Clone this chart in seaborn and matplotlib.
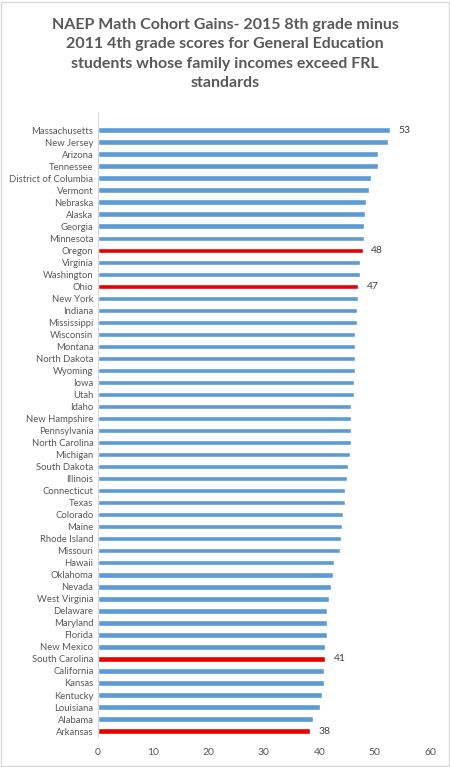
import pandas as pd
import matplotlib
matplotlib.use("Agg")
import matplotlib.pyplot as plt
import seaborn as sns

states = [
    "Massachusetts", "New Jersey", "Arizona", "Tennessee", "District of Columbia",
    "Vermont", "Nebraska", "Alaska", "Georgia", "Minnesota", "Oregon", "Virginia",
    "Washington", "Ohio", "New York", "Indiana", "Mississippi", "Wisconsin",
    "Montana", "North Dakota", "Wyoming", "Iowa", "Utah", "Idaho", "New Hampshire",
    "Pennsylvania", "North Carolina", "Michigan", "South Dakota", "Illinois",
    "Connecticut", "Texas", "Colorado", "Maine", "Rhode Island", "Missouri",
    "Hawaii", "Oklahoma", "Nevada", "West Virginia", "Delaware", "Maryland",
    "Florida", "New Mexico", "South Carolina", "California", "Kansas", "Kentucky",
    "Louisiana", "Alabama", "Arkansas",
]
gains = [
    52.7, 52.3, 50.6, 50.6, 49.4, 49.0, 48.5, 48.2, 48.0, 48.0, 47.8, 47.3,
    47.3, 47.0, 47.0, 46.8, 46.8, 46.5, 46.5, 46.5, 46.5, 46.3, 46.3, 45.8,
    45.8, 45.8, 45.8, 45.5, 45.1, 45.0, 44.6, 44.6, 44.3, 44.1, 43.9, 43.7,
    42.6, 42.4, 42.1, 41.7, 41.4, 41.3, 41.3, 41.1, 41.1, 40.8, 40.8, 40.5,
    40.2, 38.8, 38.4,
]
highlight = ["Oregon", "Ohio", "South Carolina", "Arkansas"]
labelled = ["Massachusetts", "Oregon", "Ohio", "South Carolina", "Arkansas"]

df = pd.DataFrame({"State": states, "Gain": gains})
df["Group"] = ["hi" if s in highlight else "base" for s in states]

sns.set_theme(style="white")
plt.rcParams["font.family"] = ["Lato", "DejaVu Sans"]

fig = plt.figure(figsize=(4.5, 7.67), dpi=100)
ax = fig.add_axes([0.217, 0.039, 0.739, 0.815])

sns.barplot(data=df, x="Gain", y="State", hue="Group", dodge=False,
            palette={"base": "#5B9BD5", "hi": "#E80000"}, width=0.45,
            saturation=1, legend=False, ax=ax)

# data labels only on the highlighted bars plus the top one
for i, (s, v) in enumerate(zip(states, gains)):
    if s in labelled:
        ax.annotate(f"{round(v)}", (v, i), xytext=(6, 0), textcoords="offset points",
                    va="center", ha="left", fontsize=7.5, color="#404040")

n = len(states)
ax.set_xlim(0, 60)
ax.set_ylim(n - 0.5, -1.5)
ax.set_xticks(range(0, 61, 10))
ax.set_xlabel("")
ax.set_ylabel("")
ax.tick_params(axis="both", length=0, labelsize=6.8, colors="#595959", pad=3)
ax.tick_params(axis="x", labelsize=7.5, pad=8)
for side in ["top", "right", "bottom"]:
    ax.spines[side].set_visible(False)
ax.spines["left"].set_color("#D9D9D9")
ax.spines["left"].set_linewidth(0.8)

fig.text(0.5, 0.977,
         "NAEP Math Cohort Gains- 2015 8th grade minus\n"
         "2011 4th grade scores for General Education\n"
         "students whose family incomes exceed FRL\n"
         "standards",
         ha="center", va="top", fontsize=11.5, fontweight="bold",
         color="#595959", linespacing=1.5)

fig.patches.append(plt.Rectangle((0.002, 0.001), 0.995, 0.997, transform=fig.transFigure,
                                 fill=False, edgecolor="#D9D9D9", linewidth=1))

fig.savefig("out.png", dpi=100)
